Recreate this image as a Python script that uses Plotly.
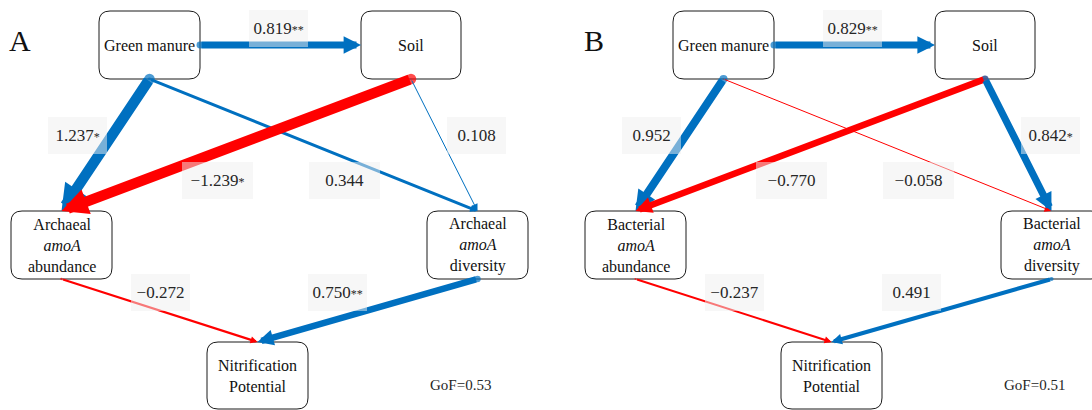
import plotly.graph_objects as go

# ---------------- data ----------------
panels = ["A", "B"]
groups = ["Archaeal", "Bacterial"]
gof = [0.53, 0.51]

node_keys = ["gm", "soil", "abund", "div", "nitr"]
edge_from = ["gm", "gm", "gm", "soil", "soil", "abund", "div"]
edge_to = ["soil", "abund", "div", "abund", "div", "nitr", "nitr"]

coef_A = [0.819, 1.237, 0.344, -1.239, 0.108, -0.272, 0.750]
sig_A = ["**", "*", "", "*", "", "", "**"]
coef_B = [0.829, 0.952, -0.058, -0.770, 0.842, -0.237, 0.491]
sig_B = ["**", "", "", "", "*", "", ""]
coefs = [coef_A, coef_B]
sigs = [sig_A, sig_B]

# ---------------- layout (pixel space of one panel) ----------------
W, H = 1092, 410
PANEL_DX = [0, 574]
NODE_BOX = {
    "gm": (99, 11, 200, 79),
    "soil": (361, 11, 461, 79),
    "abund": (11, 211, 112, 279),
    "div": (427, 211, 528, 279),
    "nitr": (207, 342, 308, 409),
}
# label centre and box width for each edge
LABEL_POS = [(278.5, 28), (77.5, 135.5), (344.5, 180), (217.5, 180),
             (476.5, 135.5), (160.5, 292.5), (337.5, 292.5)]
LABEL_W = [59, 59, 71, 71, 59, 59, 59]
LABEL_H = 37
LETTER_POS = (20, 40)
GOF_POS = (460, 385)

BLUE = "#0070C0"
RED = "#FF0000"
SERIF = "Liberation Serif, Times New Roman, serif"


def node_text(key, group):
    if key == "gm":
        return "Green manure"
    if key == "soil":
        return "Soil"
    if key == "abund":
        return f"{group}<br><i>amoA</i><br>abundance"
    if key == "div":
        return f"{group}<br><i>amoA</i><br>diversity"
    return "Nitrification<br>Potential"


def rounded(x0, y0, x1, y1, r=11):
    return (f"M{x0 + r},{y0} L{x1 - r},{y0} Q{x1},{y0} {x1},{y0 + r} "
            f"L{x1},{y1 - r} Q{x1},{y1} {x1 - r},{y1} L{x0 + r},{y1} "
            f"Q{x0},{y1} {x0},{y1 - r} L{x0},{y0 + r} Q{x0},{y0} {x0 + r},{y0} Z")


def tail_point(key, to_key, dx):
    x0, y0, x1, y1 = NODE_BOX[key]
    if key == "gm" and to_key == "soil":
        return x1 + dx, (y0 + y1) / 2
    return (x0 + x1) / 2 + dx, y1


def tip_point(key, from_key, dx):
    x0, y0, x1, y1 = NODE_BOX[key]
    if key == "soil" and from_key == "gm":
        return x0 + dx, (y0 + y1) / 2
    return (x0 + x1) / 2 + dx, y0


def fmt(c, s):
    t = f"{c:.3f}".replace("-", "\u2212")
    if s:
        t += f"<span style='font-size:12px'>{s}</span>"
    return t


fig = go.Figure()
shapes = []
arrow_anns = []
label_anns = []
text_anns = []

for p, name in enumerate(panels):
    dx = PANEL_DX[p]
    # node boxes + texts
    for key in node_keys:
        x0, y0, x1, y1 = NODE_BOX[key]
        shapes.append(dict(type="path", xref="x", yref="y",
                           path=rounded(x0 + dx, y0, x1 + dx, y1),
                           line=dict(color="#1a1a1a", width=1), fillcolor="white",
                           layer="below"))
        text_anns.append(dict(x=(x0 + x1) / 2 + dx, y=(y0 + y1) / 2, xref="x", yref="y",
                              text=node_text(key, groups[p]), showarrow=False,
                              xanchor="center", yanchor="middle", align="center",
                              font=dict(family=SERIF, size=16, color="#111111")))
    tx, ty, tw, tc = [], [], [], []
    for i in range(len(edge_from)):
        c = coefs[p][i]
        w = max(1.0, 8.5 * abs(c))
        col = BLUE if c > 0 else RED
        ax_, ay_ = tail_point(edge_from[i], edge_to[i], dx)
        x_, y_ = tip_point(edge_to[i], edge_from[i], dx)
        size = max(7.0 / (5 * w), 0.5)
        arrow_anns.append(dict(x=x_, y=y_, ax=ax_, ay=ay_, xref="x", yref="y",
                               axref="x", ayref="y", text="", showarrow=True,
                               arrowhead=2, arrowwidth=w, arrowsize=size,
                               arrowcolor=col, standoff=0, startstandoff=0))
        tx.append(ax_)
        ty.append(ay_)
        tw.append(w)
        tc.append(col)
        lx, ly = LABEL_POS[i]
        label_anns.append(dict(x=lx + dx, y=ly, xref="x", yref="y",
                               text=fmt(c, sigs[p][i]), showarrow=False,
                               xanchor="center", yanchor="middle", align="center",
                               valign="middle", width=LABEL_W[i], height=LABEL_H,
                               bgcolor="rgba(240,240,240,0.5)", borderwidth=0,
                               borderpad=0,
                               font=dict(family=SERIF, size=17, color="#262626")))
    # round start caps
    fig.add_trace(go.Scatter(x=tx, y=ty, mode="markers", hoverinfo="skip",
                             marker=dict(size=tw, color=tc, line=dict(width=0))))
    # panel letter and GoF
    text_anns.append(dict(x=LETTER_POS[0] + dx, y=LETTER_POS[1], xref="x", yref="y",
                          text=name, showarrow=False, xanchor="center", yanchor="middle",
                          font=dict(family=SERIF, size=30, color="#111111")))
    text_anns.append(dict(x=GOF_POS[0] + dx, y=GOF_POS[1], xref="x", yref="y",
                          text=f"GoF={gof[p]:.2f}", showarrow=False,
                          xanchor="center", yanchor="middle",
                          font=dict(family=SERIF, size=15, color="#262626")))

fig.update_layout(
    width=W, height=H, margin=dict(l=0, r=0, t=0, b=0),
    paper_bgcolor="white", plot_bgcolor="white", showlegend=False,
    xaxis=dict(range=[0, W], visible=False, fixedrange=True),
    yaxis=dict(range=[H, 0], visible=False, fixedrange=True),
    shapes=shapes,
    annotations=arrow_anns + text_anns + label_anns,
)

fig.write_html("out.html", config={"displayModeBar": False},
               post_script="document.body.style.margin='0';")
